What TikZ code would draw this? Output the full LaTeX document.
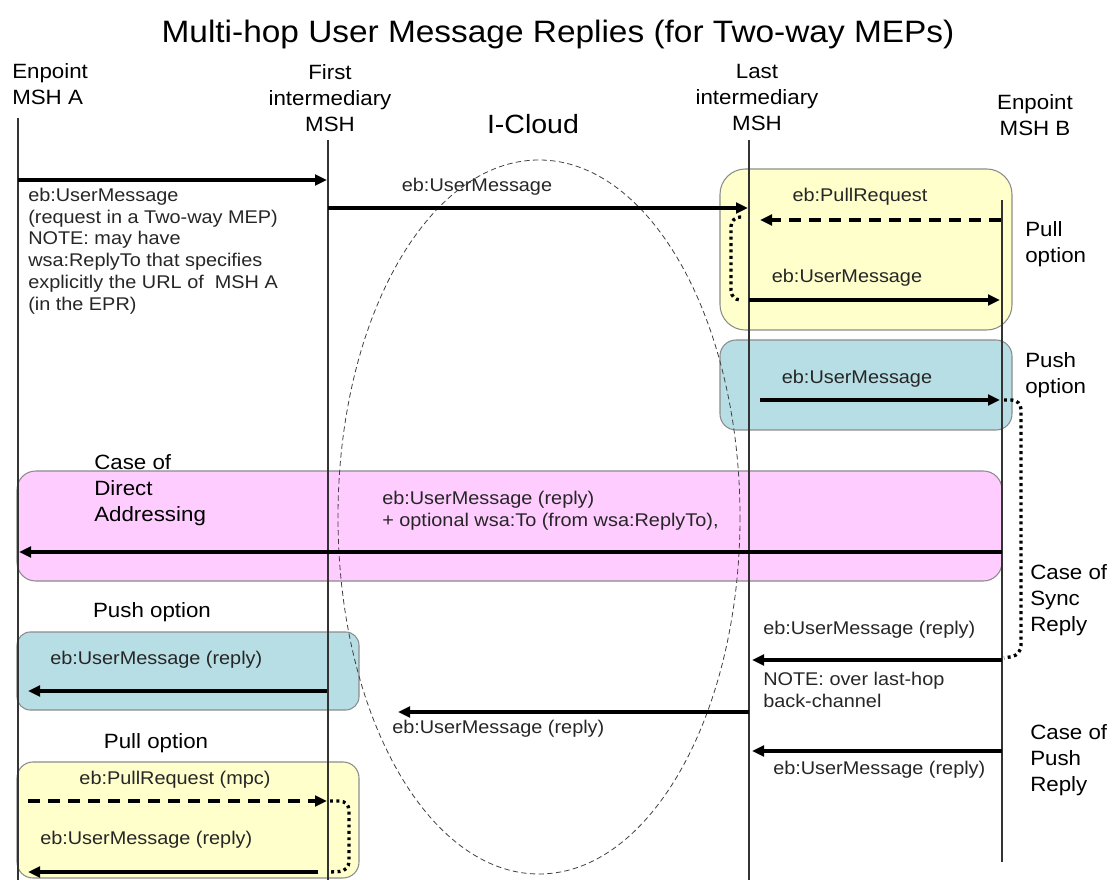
\documentclass[tikz,border=0pt]{standalone}
\usepackage{fontspec}
\setmainfont{Liberation Sans}[FakeStretch=1.08]
\usetikzlibrary{arrows.meta}
\definecolor{pullyellow}{RGB}{255,255,204}
\definecolor{pushblue}{RGB}{183,222,228}
\definecolor{directpink}{RGB}{255,204,255}
\newcommand\bodyfont{\fontsize{13.8}{16.3}\selectfont}
\newcommand\headfont{\fontsize{15.5}{19.5}\selectfont}
\tikzset{
  lifeline/.style={draw=black!80,line width=0.8pt},
  msg/.style={line width=2.7pt,-{Triangle[length=9pt,width=8pt]}},
  pullmsg/.style={msg,dash pattern=on 9pt off 6pt},
  hop/.style={line width=2.5pt,dash pattern=on 2.2pt off 2.6pt,rounded corners=7pt},
  optbox/.style={draw=black!45,line width=0.8pt},
  lbl/.style={font=\bodyfont,text=black!85,inner sep=0pt,align=left},
  head/.style={font=\headfont,inner sep=0pt,align=center}
}
\begin{document}
\begin{tikzpicture}[x=0.75pt,y=-0.75pt]
\useasboundingbox (0,0) rectangle (1118,880);
\node (title) at (558,35) {\fontsize{23.2}{27}\selectfont Multi-hop User Message Replies (for Two-way MEPs)};
\node[head,align=left,anchor=west] (hdA) at (12,84.5) {Enpoint\\MSH A};
\node[head] (hdF) at (330,98) {First\\intermediary\\MSH};
\node[head] (hdL) at (757,97) {Last\\intermediary\\MSH};
\node[head] (hdB) at (1035,115) {Enpoint\\MSH B};
\node (cloud) at (533,124) {\fontsize{19.8}{23}\selectfont I-Cloud};
% option boxes
\draw[optbox,fill=pullyellow,rounded corners=19pt] (720,169) rectangle (1012,330);
\draw[optbox,fill=pushblue,rounded corners=12pt] (720,340) rectangle (1012,430);
\draw[optbox,fill=directpink,rounded corners=14pt] (17,471) rectangle (1002,581);
\draw[optbox,fill=pushblue,rounded corners=10pt] (17,632) rectangle (359,710);
\draw[optbox,fill=pullyellow,rounded corners=12pt] (17,762) rectangle (359,878);
\draw[black!75,line width=0.6pt,dash pattern=on 4pt off 2.5pt] (539,517) ellipse [x radius=201,y radius=357];
% lifelines
\coordinate (A0) at (18,118);  \coordinate (A9) at (18,880);
\coordinate (F0) at (328,140); \coordinate (F9) at (328,880);
\coordinate (L0) at (749,140); \coordinate (L9) at (749,880);
\coordinate (B0) at (1002,200); \coordinate (B9) at (1002,862);
\draw[lifeline] (A0) -- (A9);
\draw[lifeline] (F0) -- (F9);
\draw[lifeline] (L0) -- (L9);
\draw[lifeline] (B0) -- (B9);
% message ends
\coordinate (req1) at (18,180);   \coordinate (req1e) at (327,180);
\coordinate (req2) at (328,208);  \coordinate (req2e) at (748,208);
\coordinate (pr1) at (1001,220);  \coordinate (pr1e) at (760,220);
\coordinate (um1) at (749,300);   \coordinate (um1e) at (1000,300);
\coordinate (um2) at (760,400);   \coordinate (um2e) at (1000,400);
\coordinate (dir) at (1002,552);  \coordinate (dire) at (19,552);
\coordinate (syn) at (1002,660);  \coordinate (syne) at (752,660);
\coordinate (rel) at (749,712);   \coordinate (rele) at (398,712);
\coordinate (psh) at (1002,751);  \coordinate (pshe) at (752,751);
\coordinate (lpu) at (327,691);   \coordinate (lpue) at (28,691);
\coordinate (lpr) at (28,801);    \coordinate (lpre) at (327,801);
\coordinate (lre) at (318,872);   \coordinate (lree) at (28,872);
\draw[msg] (req1) -- (req1e);
\draw[msg] (req2) -- (req2e);
\draw[pullmsg] (pr1) -- (pr1e);
\draw[msg] (um1) -- (um1e);
\draw[msg] (um2) -- (um2e);
\draw[msg] (dir) -- (dire);
\draw[msg] (syn) -- (syne);
\draw[msg] (rel) -- (rele);
\draw[msg] (psh) -- (pshe);
\draw[msg] (lpu) -- (lpue);
\draw[pullmsg] (lpr) -- (lpre);
\draw[msg] (lre) -- (lree);
% dotted hand-overs
\draw[hop] (741,217) -| (731,300) -- (741,300);
\draw[hop] (1004,400) -| (1021,655) -- (1004,658);
\draw[hop] (330,801) -| (349,871) -- (330,872);
% labels
\node[lbl,anchor=west] (req1l) at (28,251) {eb:UserMessage\\(request in a Two-way MEP)\\NOTE: may have\\wsa:ReplyTo that specifies\\explicitly the URL of~ MSH A\\(in the EPR)};
\node[lbl] (req2l) at (477,187) {eb:UserMessage};
\node[lbl] (pr1l) at (860,197) {eb:PullRequest};
\node[lbl] (um1l) at (847,278) {eb:UserMessage};
\node[lbl] (um2l) at (857,379) {eb:UserMessage};
\node[head,align=left,anchor=west] (pullopt) at (1025,244) {Pull\\option};
\node[head,align=left,anchor=west] (pushopt) at (1025,375) {Push\\option};
\node[head,align=left,anchor=west] (dirhd) at (94,490) {Case of\\Direct\\Addressing};
\node[lbl,anchor=west] (dirl) at (382,511) {eb:UserMessage (reply)\\+ optional wsa:To (from wsa:ReplyTo),};
\node[head,align=left,anchor=west] (synhd) at (1030,600) {Case of\\Sync\\Reply};
\node[lbl,anchor=west] (synl) at (763,630) {eb:UserMessage (reply)};
\node[lbl,anchor=west] (synn) at (763,690) {NOTE: over last-hop\\back-channel};
\node[lbl,anchor=west] (rell) at (392,729) {eb:UserMessage (reply)};
\node[lbl,anchor=west] (pshl) at (773,770) {eb:UserMessage (reply)};
\node[head,align=left,anchor=west] (pshhd) at (1030,760) {Case of\\Push\\Reply};
\node[head] (lpushhd) at (152,612) {Push option};
\node[lbl,anchor=west] (lpul) at (50,660) {eb:UserMessage (reply)};
\node[head] (lpullhd) at (156,743) {Pull option};
\node[lbl] (lprl) at (175,780) {eb:PullRequest (mpc)};
\node[lbl,anchor=west] (lrel) at (40,840) {eb:UserMessage (reply)};
\end{tikzpicture}
\end{document}
